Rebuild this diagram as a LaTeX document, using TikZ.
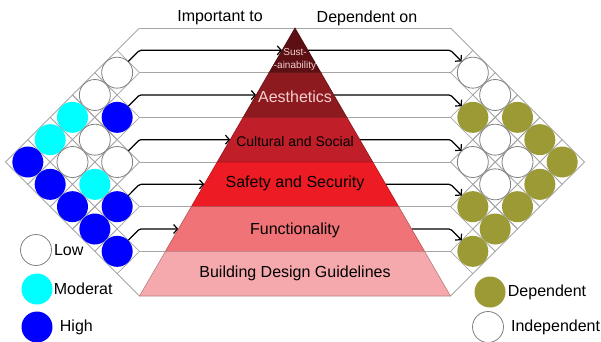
\documentclass[tikz,border=0pt]{standalone}
\usepackage{fontspec}
\setmainfont{Liberation Sans}
\usepackage{xcolor}
\usepackage{tikz}
\usetikzlibrary{arrows.meta, calc}

\definecolor{moderat}{RGB}{0,255,255}
\definecolor{highblue}{RGB}{0,0,255}
\definecolor{olivedot}{RGB}{155,154,52}
\definecolor{layerA}{RGB}{92,16,20}
\definecolor{layerB}{RGB}{140,26,30}
\definecolor{layerC}{RGB}{192,31,42}
\definecolor{layerD}{RGB}{237,28,36}
\definecolor{layerE}{RGB}{240,115,119}
\definecolor{layerF}{RGB}{245,169,172}
\definecolor{pinktext}{RGB}{244,208,208}

\tikzset{
  cell/.style={draw=gray!70, line width=0.8pt},
  dot/.style={circle, minimum size=31pt, inner sep=0pt},
  lowdot/.style={dot, draw=gray, line width=0.8pt, fill=white},
  moddot/.style={dot, fill=moderat},
  highdot/.style={dot, fill=highblue},
  depdot/.style={dot, fill=olivedot},
  indepdot/.style={lowdot},
  link/.style={draw=black, line width=1.2pt, rounded corners=1.5pt,
    -{Straight Barb[length=4pt,width=9pt,line width=1.2pt]}},
  lbl/.style={font=\fontsize{16}{18}\selectfont, inner sep=0pt}
}

\begin{document}
\begin{tikzpicture}[x=1pt, y=-1pt]
    \useasboundingbox (0,0) rectangle (601,341);

    % Pyramid corners and the two inner edges of the grids
    \coordinate (apex) at (295,28);
    \coordinate (baseL) at (139.5,296);
    \coordinate (baseR) at (450.5,296);
    \coordinate (edgeL) at (139.5,28);
    \coordinate (edgeR) at (450.5,28);

    % Gray lines across
    \foreach \y in {28,72.67,117.33,162,206.67,251.33}
        \draw[cell] (139.5,\y) -- (450.5,\y);
    \draw[cell] (edgeL) -- (117.17,50.33);
    \draw[cell] (117.17,273.67) -- (baseL);
    \draw[cell] (edgeR) -- (472.83,50.33);
    \draw[cell] (472.83,273.67) -- (baseR);

    % Left grid: important to
    \foreach \x/\y/\s/\n in {117.17/72.67/lowdot/l1, 94.83/95/lowdot/l21,
        72.5/117.33/moddot/l31, 117.17/117.33/highdot/l2, 50.17/139.67/moddot/l41,
        94.83/139.67/lowdot/l22, 27.83/162/highdot/l51, 72.5/162/lowdot/l32,
        117.17/162/lowdot/l3, 50.17/184.33/highdot/l42, 94.83/184.33/moddot/l23,
        72.5/206.67/highdot/l33, 117.17/206.67/highdot/l4, 94.83/229/highdot/l24,
        117.17/251.33/highdot/l5} {
        \draw[cell] (\x,\y-22.33) -- (\x+22.33,\y) -- (\x,\y+22.33) -- (\x-22.33,\y) -- cycle;
        \node[\s] (\n) at (\x,\y) {};
    }

    % Right grid: dependent on
    \foreach \x/\y/\s/\n in {472.83/72.67/indepdot/r1, 495.17/95/indepdot/r21,
        472.83/117.33/depdot/r2, 517.5/117.33/depdot/r31, 495.17/139.67/indepdot/r22,
        539.83/139.67/depdot/r41, 472.83/162/indepdot/r3, 517.5/162/indepdot/r32,
        562.17/162/depdot/r51, 495.17/184.33/indepdot/r23, 539.83/184.33/depdot/r42,
        472.83/206.67/depdot/r4, 517.5/206.67/depdot/r33, 495.17/229/depdot/r24,
        472.83/251.33/depdot/r5} {
        \draw[cell] (\x,\y-22.33) -- (\x+22.33,\y) -- (\x,\y+22.33) -- (\x-22.33,\y) -- cycle;
        \node[\s] (\n) at (\x,\y) {};
    }

    % Arrows to and from the pyramid
    \foreach \i in {1,...,5} {
        \coordinate (pL\i) at ($(apex)!{(2*\i-1)/12}!(baseL)$);
        \coordinate (pR\i) at ($(apex)!{(2*\i-1)/12}!(baseR)$);
        \draw[link] (l\i.45) -- (edgeL |- pL\i) -- (pL\i);
        \draw[link] (pR\i) -- (edgeR |- pR\i) -- (r\i.135);
    }

    % Pyramid layers
    \foreach \a/\b/\c in {0/2/layerA, 2/4/layerB, 4/6/layerC, 6/8/layerD, 8/10/layerE, 10/12/layerF}
        \filldraw[fill=\c, draw=\c!75!black, line width=0.6pt]
            ($(apex)!\a/12!(baseL)$) -- ($(apex)!\b/12!(baseL)$)
            -- ($(apex)!\b/12!(baseR)$) -- ($(apex)!\a/12!(baseR)$) -- cycle;

    \node[font=\fontsize{10}{12.5}\selectfont, text=pinktext, align=center, inner sep=0pt] (sust) at (295,59.5) {Sust-\\-ainability};
    \node[lbl, text=pinktext] (aesth) at (295,97) {Aesthetics};
    \node[font=\fontsize{14}{16}\selectfont, inner sep=0pt] (cult) at (295,141.5) {Cultural and Social};
    \node[lbl] (safety) at (295,183) {Safety and Security};
    \node[lbl] (func) at (295,230) {Functionality};
    \node[lbl] (guide) at (295,273) {Building Design Guidelines};

    % Headings
    \node[lbl] (impt) at (220,18) {Important to};
    \node[lbl] (depon) at (367,18) {Dependent on};

    % Legends
    \node[lowdot] (keylow) at (36,250) {};
    \node[lbl, anchor=west] (lowtxt) at ([xshift=2pt]keylow.east) {Low};
    \node[moddot] (keymod) at (37,289) {};
    \node[lbl, anchor=west] (modtxt) at ([xshift=1pt]keymod.east) {Moderat};
    \node[highdot] (keyhigh) at (37,327) {};
    \node[lbl, anchor=west] (hightxt) at ([xshift=7pt]keyhigh.east) {High};
    \node[depdot] (keydep) at (490,292) {};
    \node[lbl, anchor=west] (deptxt) at ([xshift=2pt]keydep.east) {Dependent};
    \node[indepdot] (keyindep) at (488,327) {};
    \node[lbl, anchor=west] (indeptxt) at ([xshift=7pt]keyindep.east) {Independent};
\end{tikzpicture}
\end{document}
